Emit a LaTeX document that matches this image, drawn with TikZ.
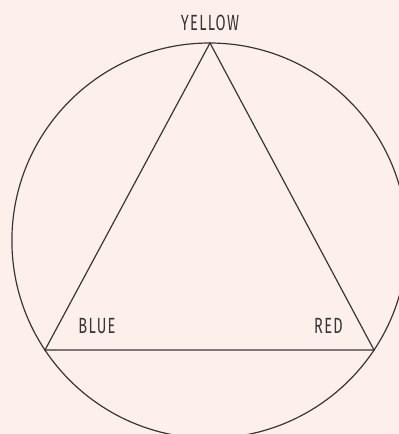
\documentclass[tikz,border=0pt]{standalone}
\usepackage{fontspec}
\newfontfamily\lblfont[FakeStretch=0.66,LetterSpace=6]{Fira Sans}
\usetikzlibrary{positioning}
\definecolor{bgpink}{HTML}{FDF0EC}
\definecolor{inkgrey}{HTML}{3A3535}

\begin{document}
\begin{tikzpicture}[
  x=0.5pt, y=0.5pt,
  edge/.style={draw=inkgrey, line width=0.6pt},
  lbl/.style={text=inkgrey, font=\lblfont\fontsize{11}{13}\selectfont, inner sep=0pt}
]
\useasboundingbox (0,0) rectangle (399,434);
\fill[bgpink] (0,0) rectangle (399,434);
\clip (0,0) rectangle (399,434);
\coordinate (yel) at (210,391);
\coordinate (blu) at (45,84);
\coordinate (rd) at (374,84);
\coordinate (ctr) at (209.5,193.4);
\draw[edge] (ctr) circle[radius=98.8pt];
\draw[edge] (yel) -- (blu) -- (rd) -- cycle;
\node[lbl] (tyel) at (210,411.5) {YELLOW};
\node[lbl] (tblu) at (97,108) {BLUE};
\node[lbl] (trd) at (328.5,108) {RED};
\end{tikzpicture}
\end{document}
